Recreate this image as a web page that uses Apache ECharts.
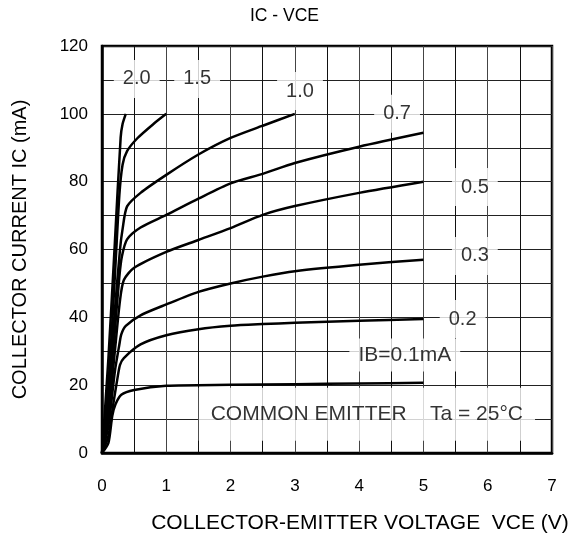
<!DOCTYPE html>
<html>
<head>
<meta charset="utf-8">
<script src="https://cdn.jsdelivr.net/npm/echarts@6/dist/echarts.min.js"></script>
<style>
html,body{margin:0;padding:0;background:#fff;}
#chart{width:574px;height:540px;}
</style>
</head>
<body>
<div id="chart"></div>
<script>
// ---- data (VCE in V, IC in mA) ----
const ib01 = [[0,0],[0.1,3],[0.16,11],[0.21,14.4],[0.3,17.2],[0.5,18.6],[1,19.8],[2,20.1],[3,20.3],[4,20.5],[5,20.7]];
const ib02 = [[0,0],[0.1,5],[0.18,15],[0.24,22],[0.28,26],[0.34,28],[0.6,32],[1,34.7],[1.5,36.5],[2,37.5],[2.5,38],[3,38.4],[4,39],[5,39.5]];
const ib03 = [[0,0],[0.1,8],[0.2,24],[0.27,32],[0.3,35],[0.37,37.5],[0.6,40.6],[1,43.8],[1.5,47.5],[2,50],[2.5,52],[3,53.6],[4,55.5],[5,57]];
const ib05 = [[0,0],[0.1,11],[0.2,30],[0.28,45],[0.34,51],[0.5,54.6],[1,59.3],[1.5,62.8],[2,66.3],[2.5,70.2],[3,72.8],[4,76.7],[5,80]];
const ib07 = [[0,0],[0.1,13],[0.2,36],[0.27,52],[0.31,58],[0.39,63],[0.6,66.5],[1,70.2],[1.5,75],[2,79.5],[2.5,82.3],[3,85.5],[4,90.3],[5,94.4]];
const ib10 = [[0,0],[0.1,15],[0.2,42],[0.28,60],[0.32,66],[0.39,72.7],[0.6,76.7],[1,82],[1.5,88],[2,92.9],[2.5,96.5],[3,100]];
const ib15 = [[0,0],[0.1,20],[0.2,52],[0.27,76],[0.32,85],[0.39,89],[0.55,92.8],[0.8,97],[1,100]];
const ib20 = [[0,0],[0.1,28],[0.2,62],[0.29,93],[0.32,97],[0.37,100]];
const curves = [ib01, ib02, ib03, ib05, ib07, ib10, ib15, ib20];

const xTicks = [0,1,2,3,4,5,6,7];
const yTicks = [0,20,40,60,80,100,120];

// annotation texts and their anchor (data coordinates)
const curveLabels = [
  ["2.0", 0.54, 110.3],
  ["1.5", 1.48, 110.3],
  ["1.0", 3.08, 106.7],
  ["0.7", 4.59, 100],
  ["0.5", 5.8, 78.4],
  ["0.3", 5.8, 58.1],
  ["0.2", 5.61, 39.5]
];
const ibLabel = [["IB=0.1mA", 4.71, 28.9]];
const noteLabel = [["COMMON EMITTER    Ta = 25°C", 4.12, 11.4]];

const FONT = '"Liberation Sans", Arial, sans-serif';
const chart = echarts.init(document.getElementById('chart'));

const lineSeries = curves.map(c => ({
  type: 'line',
  data: c,
  showSymbol: false,
  smooth: 0.25,
  lineStyle: {color: '#000', width: 2.5},
  z: 5,
  silent: true
}));

function labelSeries(rows, fontSize, padding, z) {
  return {
    type: 'scatter',
    data: rows.map(d => [d[1], d[2], d[0]]),
    symbolSize: 0,
    silent: true,
    z: z,
    label: {
      show: true, position: 'inside',
      formatter: p => p.value[2],
      fontFamily: FONT, fontSize: fontSize, color: '#000',
      backgroundColor: '#fff', padding: padding
    }
  };
}

chart.setOption({
  animation: false,
  backgroundColor: '#fff',
  title: {
    text: 'IC - VCE',
    left: 245, top: 2,
    textStyle: {fontFamily: FONT, fontSize: 17.5, fontWeight: 'normal', color: '#000'}
  },
  grid: {left: 102, right: 22, top: 46, bottom: 87, show: true, borderColor: '#000', borderWidth: 2.5},
  xAxis: {
    type: 'value', min: 0, max: 7, interval: 1,
    name: 'COLLECTOR-EMITTER VOLTAGE  VCE (V)',
    nameLocation: 'middle', nameGap: 60,
    nameTextStyle: {fontFamily: FONT, fontSize: 21, color: '#000', padding: [0, 0, 0, 66]},
    axisLine: {show: true, lineStyle: {color: '#000', width: 2.5}},
    axisTick: {show: false},
    minorTick: {show: false, splitNumber: 2},
    axisLabel: {margin: 25, fontFamily: FONT, fontSize: 17, color: '#000',
      formatter: v => xTicks.includes(v) ? String(v) : ''},
    splitLine: {show: true, lineStyle: {color: '#444', width: 1}},
    minorSplitLine: {show: true, lineStyle: {color: '#111', width: 1}}
  },
  yAxis: {
    type: 'value', min: 0, max: 120, interval: 20,
    name: 'COLLECTOR CURRENT IC (mA)',
    nameLocation: 'middle', nameGap: 72, nameRotate: 90,
    nameTextStyle: {fontFamily: FONT, fontSize: 20, color: '#000'},
    axisLine: {show: true, lineStyle: {color: '#000', width: 2.5}},
    axisTick: {show: false},
    minorTick: {show: false, splitNumber: 2},
    axisLabel: {margin: 14, fontFamily: FONT, fontSize: 17, color: '#000',
      formatter: v => yTicks.includes(v) ? String(v) : ''},
    splitLine: {show: true, lineStyle: {color: '#222', width: 1}},
    minorSplitLine: {show: true, lineStyle: {color: '#222', width: 1}}
  },
  series: lineSeries.concat([
    labelSeries(curveLabels, 20, [9, 9], 4),
    labelSeries(ibLabel, 21, [6, 9], 4),
    labelSeries(noteLabel, 21, [16, 12], 3)
  ])
});
</script>
</body>
</html>
